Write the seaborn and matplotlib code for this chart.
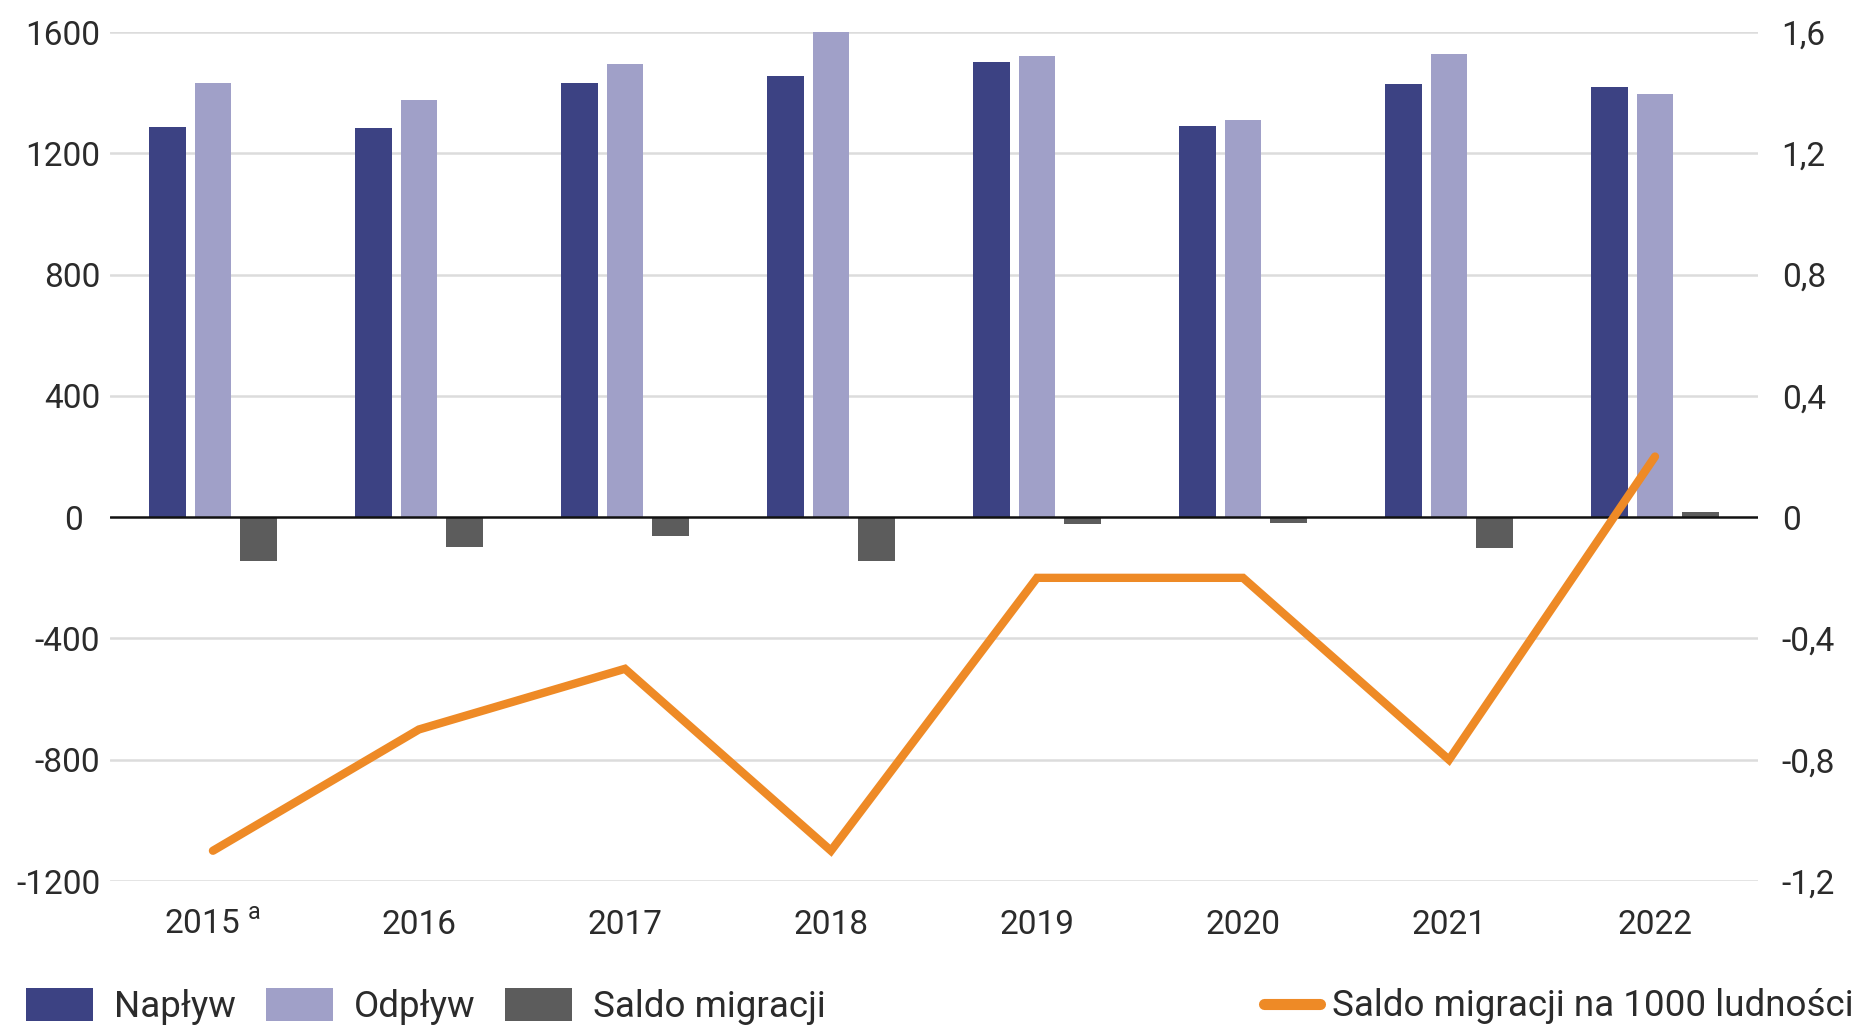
import numpy as np
import pandas as pd
import matplotlib
matplotlib.use("Agg")
import matplotlib.pyplot as plt
import seaborn as sns
from matplotlib.patches import Patch
from matplotlib.lines import Line2D

years = ["2015", "2016", "2017", "2018", "2019", "2020", "2021", "2022"]
year_labels = [r"2015 $^{\mathregular{a}}$", "2016", "2017", "2018", "2019", "2020", "2021", "2022"]
naplyw = [1287, 1283, 1432, 1455, 1502, 1291, 1428, 1420]
odplyw = [1432, 1377, 1494, 1600, 1522, 1311, 1526, 1397]
saldo = [-145, -98, -63, -145, -23, -20, -100, 16]
saldo_na_1000 = [-1.1, -0.7, -0.5, -1.1, -0.2, -0.2, -0.8, 0.2]

series_names = ["Napływ", "Odpływ", "Saldo migracji"]
line_name = "Saldo migracji na 1000 ludności"
left_ticks = [-1200, -800, -400, 0, 400, 800, 1200, 1600]
left_tick_labels = ["-1200", "-800", "-400", "0  ", "400", "800", "1200", "1600"]
right_ticks = [-1.2, -0.8, -0.4, 0, 0.4, 0.8, 1.2, 1.6]
right_tick_labels = ["-1,2", "-0,8", "-0,4", "0", "0,4", "0,8", "1,2", "1,6"]

colors = {"Napływ": "#3C4283", "Odpływ": "#A0A0C8", "Saldo migracji": "#5C5C5C"}
line_color = "#EE8A26"
text_color = "#2B2B2B"

sns.set_theme(style="white")
plt.rcParams["font.family"] = ["Roboto", "DejaVu Sans"]
plt.rcParams["mathtext.fontset"] = "custom"
plt.rcParams["mathtext.rm"] = "Roboto"

df = pd.DataFrame({
    "rok": years * 3,
    "seria": [series_names[0]] * 8 + [series_names[1]] * 8 + [series_names[2]] * 8,
    "wartosc": naplyw + odplyw + saldo,
})

fig = plt.figure(figsize=(18.57, 10.27), dpi=100)
ax = fig.add_axes([0.0592, 0.1421, 0.8875, 0.8267])

sns.barplot(data=df, x="rok", y="wartosc", hue="seria", hue_order=series_names,
            order=years, palette=colors, saturation=1, width=0.66, gap=0.19,
            linewidth=0, legend=False, ax=ax, zorder=3)

ax.set_xlim(-0.5, 7.5)
ax.set_ylim(-1200, 1600)
ax.set_yticks(left_ticks)
ax.set_yticklabels(left_tick_labels)
ax.set_xticks(range(len(years)))
ax.set_xticklabels(year_labels)
ax.set_xlabel("")
ax.set_ylabel("")
for t in left_ticks:
    if t != 0:
        ax.axhline(t, color="#DCDCDC", lw=1.8, zorder=0)
ax.axhline(0, color="#111111", lw=1.8, zorder=4)
for s in ax.spines.values():
    s.set_visible(False)
ax.tick_params(axis="y", length=0, pad=7, labelsize=24, labelcolor=text_color)
ax.tick_params(axis="x", length=0, pad=20, labelsize=24, labelcolor=text_color)

ax2 = ax.twinx()
sns.lineplot(x=np.arange(len(years)), y=saldo_na_1000, color=line_color, lw=6,
             ax=ax2, zorder=5, legend=False)
for l in ax2.lines:
    l.set_solid_capstyle("round")
    l.set_solid_joinstyle("miter")
ax2.set_ylim(-1.2, 1.6)
ax2.set_yticks(right_ticks)
ax2.set_yticklabels(right_tick_labels)
ax2.set_ylabel("")
for s in ax2.spines.values():
    s.set_visible(False)
ax2.tick_params(axis="y", length=0, pad=17, labelsize=24, labelcolor=text_color)
ax2.grid(False)

handles = [Patch(facecolor=colors[n], edgecolor="none") for n in series_names]
fig.legend(handles, series_names, loc="center left", bbox_to_anchor=(0.01, 0.02),
           ncol=3, frameon=False, fontsize=26.5, handlelength=1.82, handleheight=1.0,
           handletextpad=0.58, columnspacing=0.8, labelcolor=text_color,
           borderaxespad=0.0, borderpad=0.2)
fig.legend([Line2D([0], [0], color=line_color, lw=8, solid_capstyle="round")], [line_name],
           loc="center right", bbox_to_anchor=(1.0, 0.02), frameon=False, fontsize=26.5,
           handlelength=1.52, handletextpad=0.33, labelcolor=text_color,
           borderaxespad=0.0, borderpad=0.1)

fig.savefig("out.png", dpi=100)
